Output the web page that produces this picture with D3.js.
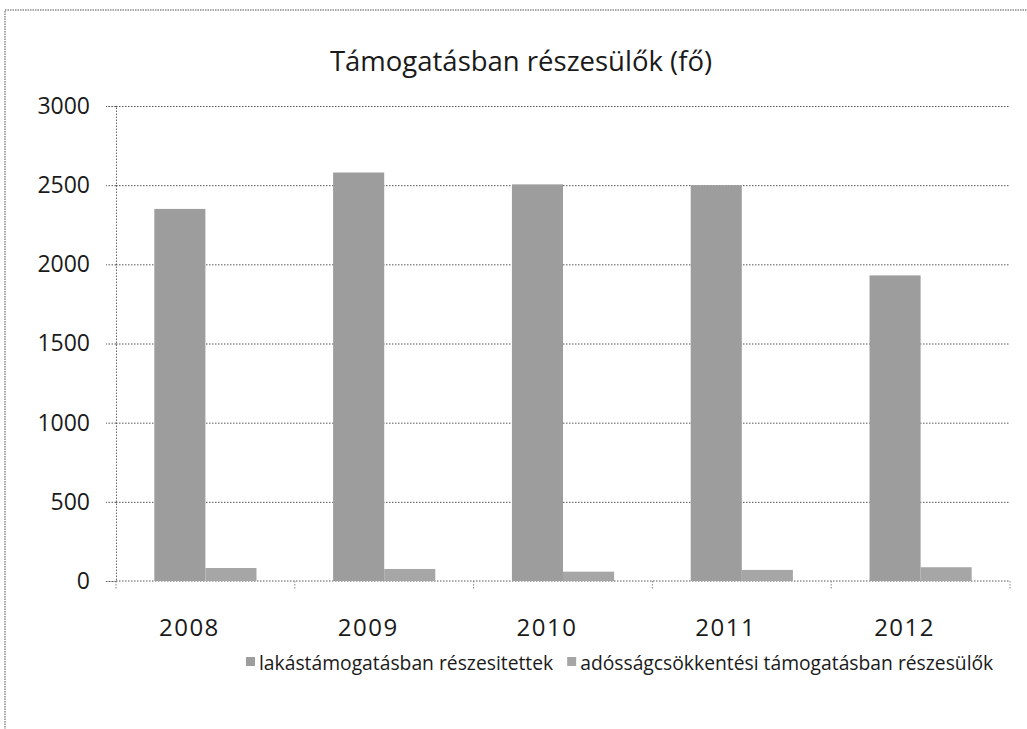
<!DOCTYPE html>
<html>
<head>
<meta charset="utf-8">
<script src="https://cdn.jsdelivr.net/npm/d3@7"></script>
<style>
  body { margin: 0; background: #fff; }
  text { font-family: "Open Sans", "Noto Sans", sans-serif; fill: #1a1a1a; }
</style>
</head>
<body>
<div id="chart"></div>
<script>
const years = ['2008', '2009', '2010', '2011', '2012'];
const seriesNames = ['lakástámogatásban részesitettek', 'adósságcsökkentési támogatásban részesülők'];
const lakas = [2350, 2580, 2505, 2500, 1930];
const adossag = [82, 76, 59, 70, 87];
const yTicks = [0, 500, 1000, 1500, 2000, 2500, 3000];

const width = 1027, height = 729;
const plot = { left: 116, right: 1010, top: 106, bottom: 581 };
const colors = ['#9d9d9d', '#a6a6a6'];

const svg = d3.select('#chart').append('svg')
  .attr('width', width)
  .attr('height', height);

// outer chart frame (scan shows only top and left edges)
svg.append('rect')
  .attr('x', 5).attr('y', 10)
  .attr('width', 1060).attr('height', 760)
  .attr('fill', 'none')
  .attr('stroke', '#8a8a8a')
  .attr('stroke-width', 1.5)
  .attr('stroke-dasharray', '1.5,1');

svg.append('text')
  .attr('x', 521)
  .attr('y', 71)
  .attr('text-anchor', 'middle')
  .style('font-size', '27.5px')
  .text('Támogatásban részesülők (fő)');

const x0 = d3.scaleBand()
  .domain(years)
  .range([plot.left, plot.right])
  .paddingInner(0)
  .paddingOuter(0);

const x1 = d3.scaleBand()
  .domain([0, 1])
  .range([0, x0.bandwidth()])
  .paddingInner(0)
  .paddingOuter(0.75);

const y = d3.scaleLinear()
  .domain([0, 3000])
  .range([plot.bottom, plot.top]);

// y axis with gridlines
svg.append('g')
  .attr('transform', 'translate(' + plot.left + ',0)')
  .call(d3.axisLeft(y).tickValues(yTicks).tickFormat(d3.format('d')).tickSize(10).tickPadding(16))
  .call(g => g.select('.domain').attr('stroke', '#666').attr('stroke-dasharray', '1.5,1.5'))
  .call(g => g.selectAll('.tick line').attr('stroke', '#555').attr('stroke-dasharray', '1.5,1.5'))
  .call(g => g.selectAll('.tick text').style('font-size', '23px').attr('fill', '#1a1a1a'))
  .call(g => g.selectAll('.tick').filter(d => d > 0).append('line')
    .attr('x2', plot.right - plot.left)
    .attr('stroke', '#555')
    .attr('stroke-dasharray', '1.5,1.5'));

// x axis
const xAxis = svg.append('g')
  .attr('transform', 'translate(0,' + plot.bottom + ')');
xAxis.append('line')
  .attr('x1', plot.left).attr('x2', plot.right)
  .attr('stroke', '#555')
  .attr('stroke-dasharray', '1.5,1.5');
xAxis.selectAll('.xtick')
  .data(years.concat(['end']))
  .join('line')
  .attr('class', 'xtick')
  .attr('x1', (d, i) => plot.left + i * x0.step())
  .attr('x2', (d, i) => plot.left + i * x0.step())
  .attr('y1', 0).attr('y2', 9)
  .attr('stroke', '#888')
  .attr('stroke-dasharray', '1.5,1.5');
xAxis.selectAll('.xlabel')
  .data(years)
  .join('text')
  .attr('class', 'xlabel')
  .attr('x', d => x0(d) + x0.bandwidth() / 2 - 16)
  .attr('y', 55)
  .attr('text-anchor', 'middle')
  .style('font-size', '24px')
  .style('letter-spacing', '1.5px')
  .text(d => d);

// bars
const series = [lakas, adossag];
const groups = svg.append('g').selectAll('g')
  .data(years)
  .join('g')
  .attr('transform', d => 'translate(' + x0(d) + ',0)');

groups.selectAll('rect')
  .data((d, i) => series.map((s, j) => ({ k: j, v: s[i] })))
  .join('rect')
  .attr('x', d => x1(d.k))
  .attr('width', x1.bandwidth())
  .attr('y', d => y(d.v))
  .attr('height', d => y(0) - y(d.v))
  .attr('fill', d => colors[d.k]);

// legend, laid out from measured text widths
const legend = svg.append('g');
let lx = 246;
seriesNames.forEach((name, i) => {
  legend.append('rect')
    .attr('x', lx).attr('y', 657)
    .attr('width', 9).attr('height', 9)
    .attr('fill', colors[i]);
  const t = legend.append('text')
    .attr('x', lx + 13)
    .attr('y', 670)
    .style('font-size', '19.3px')
    .text(name);
  lx += 13 + t.node().getComputedTextLength() + 14;
});
</script>
</body>
</html>
